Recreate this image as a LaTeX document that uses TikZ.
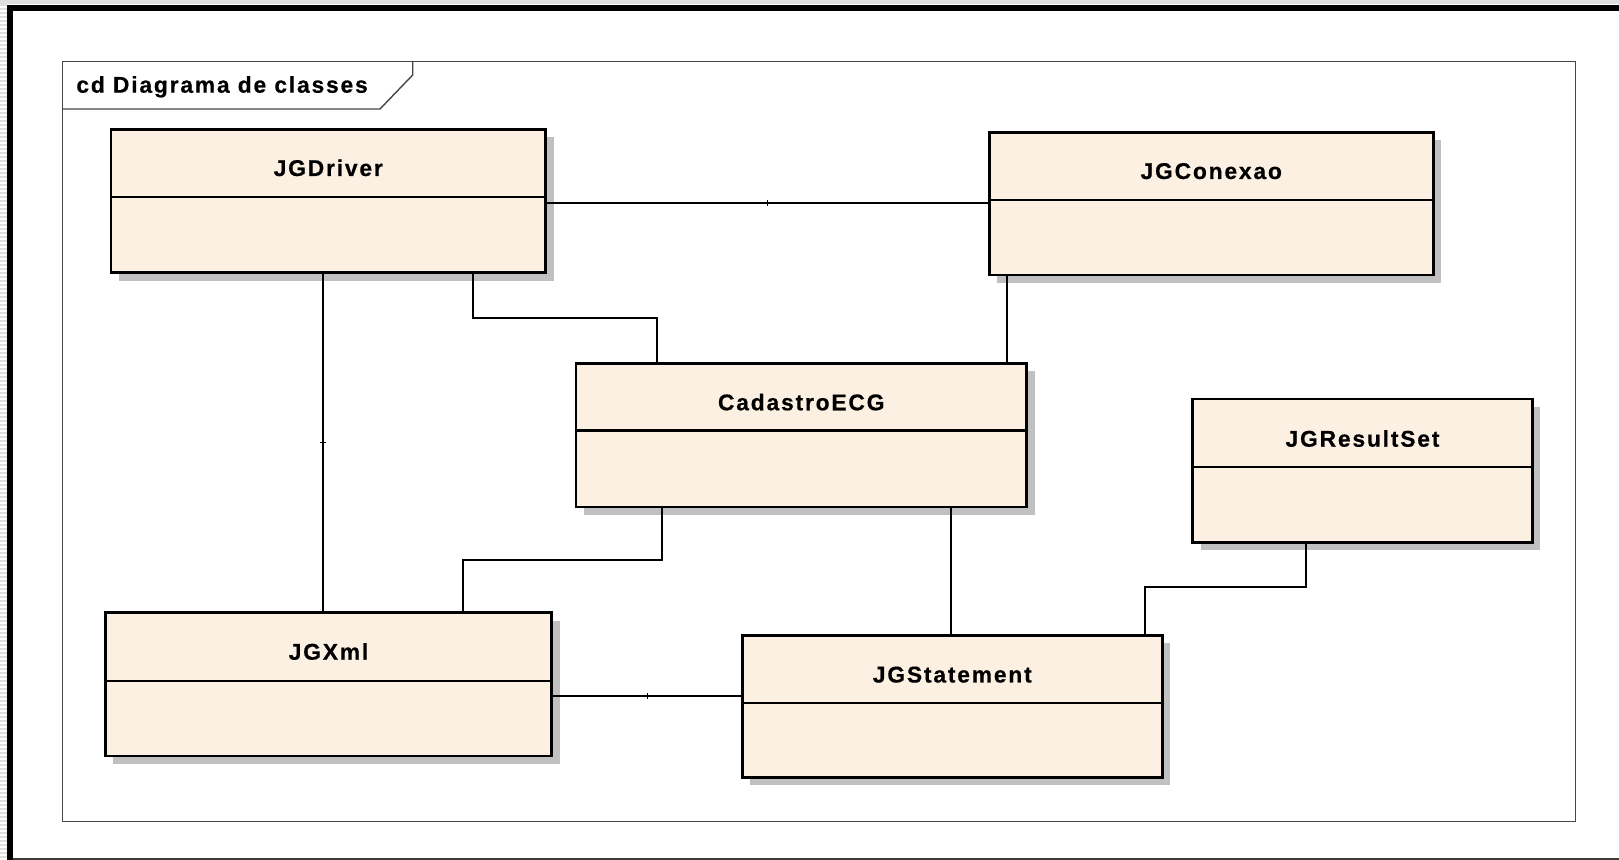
\documentclass[tikz,border=0pt]{standalone}
\usepackage{fontspec}
\setmainfont{Liberation Sans}
\newfontfamily\umlfont[LetterSpace=8,FakeBold=0.5]{Liberation Sans}
\usetikzlibrary{fit,shadows}
\definecolor{classfill}{RGB}{251,240,226}
\definecolor{shadowgray}{RGB}{192,192,192}
\definecolor{framegray}{RGB}{70,70,70}
\definecolor{stripegray}{RGB}{222,222,222}
\definecolor{pageline}{RGB}{60,60,60}
\begin{document}
\begin{tikzpicture}[x=0.5pt,y=-0.5pt,
  classbox/.style={draw=black, line width=1.3pt, fill=classfill, inner sep=0pt,
    drop shadow={shadow xshift=4pt, shadow yshift=-4pt, fill=shadowgray, opacity=1}},
  sepline/.style={draw=black, line width=1.1pt},
  classname/.style={inner sep=0pt, anchor=base, font=\umlfont\bfseries\fontsize{11.4}{13}\selectfont},
  assoc/.style={draw=black, line width=1pt},
  tickmark/.style={draw=black, line width=0.5pt},
  umlframe/.style={draw=framegray, line width=0.7pt, inner sep=0pt},
  frametitle/.style={inner sep=0pt, anchor=base west, font=\umlfont\bfseries\fontsize{11.4}{13}\selectfont}]

% page
\useasboundingbox (0,0) rectangle (1619,860);
\fill[white] (0,0) rectangle (1619,860);
\fill[stripegray] (0,0) rectangle (1619,4);
\foreach \y in {0,4,...,856} \fill[stripegray] (0,\y) rectangle (7,\y+2);
\fill[black] (7,5) rectangle (1619,11);
\fill[black] (7,5) rectangle (13,860);
\draw[pageline, line width=1pt] (13,859) -- (1619,859);

% diagram frame with its name tab
\node[umlframe, fit={(62.7,61.7) (1575.7,821.7)}] (frame) {};
\draw[framegray, line width=0.7pt] (frame.west |- 0,109) -- (380,109) -- (412.7,75) -- (frame.north -| 412.7,0);
\node[frametitle] (title) at (76,92.7) {cd Diagrama de classes};

% classes
\node[classbox, fit={(111,129.3) (545.5,272.7)}] (drv) {};
\draw[sepline] (drv.west |- 0,197) -- (drv.east |- 0,197);
\node[classname] (drv-name) at (drv.north |- 0,176) {JGDriver};

\node[classbox, fit={(989.2,132.3) (1433.3,275)}] (con) {};
\draw[sepline] (con.west |- 0,200.3) -- (con.east |- 0,200.3);
\node[classname] (con-name) at (con.north |- 0,179) {JGConexao};

\node[classbox, fit={(576,363.3) (1026.5,507)}] (cad) {};
\draw[sepline] (cad.west |- 0,430.6) -- (cad.east |- 0,430.6);
\node[classname] (cad-name) at (cad.north |- 0,410.3) {CadastroECG};

\node[classbox, fit={(1192.7,399) (1532.3,542.3)}] (rs) {};
\draw[sepline] (rs.west |- 0,466.7) -- (rs.east |- 0,466.7);
\node[classname] (rs-name) at (rs.north |- 0,446.7) {JGResultSet};

\node[classbox, fit={(105.3,612.7) (551.7,756)}] (xml) {};
\draw[sepline] (xml.west |- 0,680.7) -- (xml.east |- 0,680.7);
\node[classname] (xml-name) at (xml.north |- 0,659.7) {JGXml};

\node[classbox, fit={(742.3,635.5) (1162.3,777.5)}] (stm) {};
\draw[sepline] (stm.west |- 0,703.3) -- (stm.east |- 0,703.3);
\node[classname] (stm-name) at (stm.north |- 0,682.5) {JGStatement};

% associations
\draw[assoc] (drv.east |- 0,203) -- coordinate[pos=.5] (m1) (con.west |- 0,203);
\draw[tickmark] ([yshift=-1.4pt]m1) -- ([yshift=1.4pt]m1);

\draw[assoc] (drv.south -| 473,0) |- (657,318) -- (cad.north -| 657,0);

\draw[assoc] (con.south -| 1006.7,0) -- (cad.north -| 1006.7,0);

\draw[assoc] (drv.south -| 323,0) -- coordinate[pos=.5] (m2) (xml.north -| 323,0);
\draw[tickmark] ([xshift=-1.4pt]m2) -- ([xshift=1.4pt]m2);

\draw[assoc] (cad.south -| 662.3,0) |- (463.3,560) -- (xml.north -| 463.3,0);

\draw[assoc] (cad.south -| 951,0) -- (stm.north -| 951,0);

\draw[assoc] (xml.east |- 0,696) -- coordinate[pos=.5] (m3) (stm.west |- 0,696);
\draw[tickmark] ([yshift=-1.4pt]m3) -- ([yshift=1.4pt]m3);

\draw[assoc] (rs.south -| 1306,0) |- (1145,587.5) -- (stm.north -| 1145,0);
\end{tikzpicture}
\end{document}
